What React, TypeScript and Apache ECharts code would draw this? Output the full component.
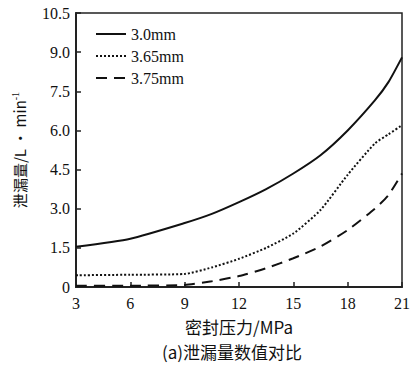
import React, { useEffect, useRef } from "react";
import * as echarts from "echarts";

const pressure = [3, 6, 9, 10.5, 12, 13.5, 15, 16.5, 18, 19.5, 20.25, 21];
const leak30 = [1.54, 1.85, 2.45, 2.8, 3.25, 3.75, 4.35, 5.05, 6.0, 7.15, 7.85, 8.8];
const leak365 = [0.45, 0.47, 0.5, 0.75, 1.08, 1.5, 2.05, 2.95, 4.3, 5.5, 5.85, 6.2];
const leak375 = [0.05, 0.05, 0.08, 0.22, 0.42, 0.72, 1.1, 1.55, 2.18, 3.0, 3.52, 4.35];
const seriesNames = ["3.0mm", "3.65mm", "3.75mm"];
const xTicks = { min: 3, max: 21, interval: 3 };
const yTicks = { min: 0, max: 10.5, interval: 1.5 };

const serif = "'Liberation Serif', 'DejaVu Serif', serif";
const cjk = "'Noto Sans CJK SC', 'Liberation Serif', serif";

export default function App() {
  const ref = useRef<HTMLDivElement>(null);
  useEffect(() => {
    if (!ref.current) return;
    const chart = echarts.init(ref.current, null, { renderer: "svg" });
    const pair = (ys: number[]) => pressure.map((x, i) => [x, ys[i]]);
    const mk = (name: string, ys: number[], type: any) => ({
      name,
      type: "line",
      data: pair(ys),
      symbol: "none",
      smooth: 0.2,
      lineStyle: { color: "#111", width: 2, type },
      itemStyle: { color: "#111" },
    });
    chart.setOption({
      animation: false,
      grid: {
        left: 76,
        right: 16,
        top: 13,
        bottom: 78,
        show: true,
        borderColor: "#222",
        borderWidth: 1.5,
      },
      legend: {
        orient: "vertical",
        left: 90,
        top: 21,
        itemWidth: 30,
        itemHeight: 12,
        itemGap: 6,
        itemStyle: { opacity: 0 },
        textStyle: { fontFamily: serif, fontSize: 16, color: "#111" },
        data: seriesNames,
      },
      xAxis: {
        type: "value",
        min: xTicks.min,
        max: xTicks.max,
        interval: xTicks.interval,
        name: "密封压力/MPa",
        nameLocation: "middle",
        nameGap: 31,
        nameTextStyle: { fontFamily: cjk, fontSize: 17, color: "#111" },
        axisLine: { lineStyle: { color: "#222", width: 2 } },
        axisTick: { inside: true, length: 5, lineStyle: { color: "#222", width: 1.5 } },
        axisLabel: { fontFamily: serif, fontSize: 16, color: "#111", margin: 8 },
        splitLine: { show: false },
      },
      yAxis: {
        type: "value",
        min: yTicks.min,
        max: yTicks.max,
        interval: yTicks.interval,
        name: "泄漏量/L • min{sup|-1}",
        nameLocation: "middle",
        nameRotate: 90,
        nameGap: 48,
        nameTextStyle: {
          fontFamily: cjk,
          fontSize: 15,
          color: "#111",
          rich: { sup: { fontSize: 10, verticalAlign: "top", padding: [0, 0, 8, 0], fontFamily: serif, color: "#111" } },
        },
        axisLine: { lineStyle: { color: "#222", width: 2 } },
        axisTick: { inside: true, length: 5, lineStyle: { color: "#222", width: 1.5 } },
        axisLabel: {
          fontFamily: serif,
          fontSize: 16,
          color: "#111",
          margin: 6,
          formatter: (v: number) => (v === 0 ? "0" : v.toFixed(1)),
        },
        splitLine: { show: false },
      },
      graphic: [
        {
          type: "text",
          left: 162,
          top: 343,
          style: { text: "(a)泄漏量数值对比", font: `17px ${cjk}`, fill: "#111" },
        },
      ],
      series: [
        mk(seriesNames[0], leak30, "solid"),
        mk(seriesNames[1], leak365, [2, 2]),
        mk(seriesNames[2], leak375, [11, 7]),
      ],
    });
    return () => chart.dispose();
  }, []);
  return <div ref={ref} style={{ position: "absolute", left: 0, top: 0, width: 418, height: 365 }} />;
}
